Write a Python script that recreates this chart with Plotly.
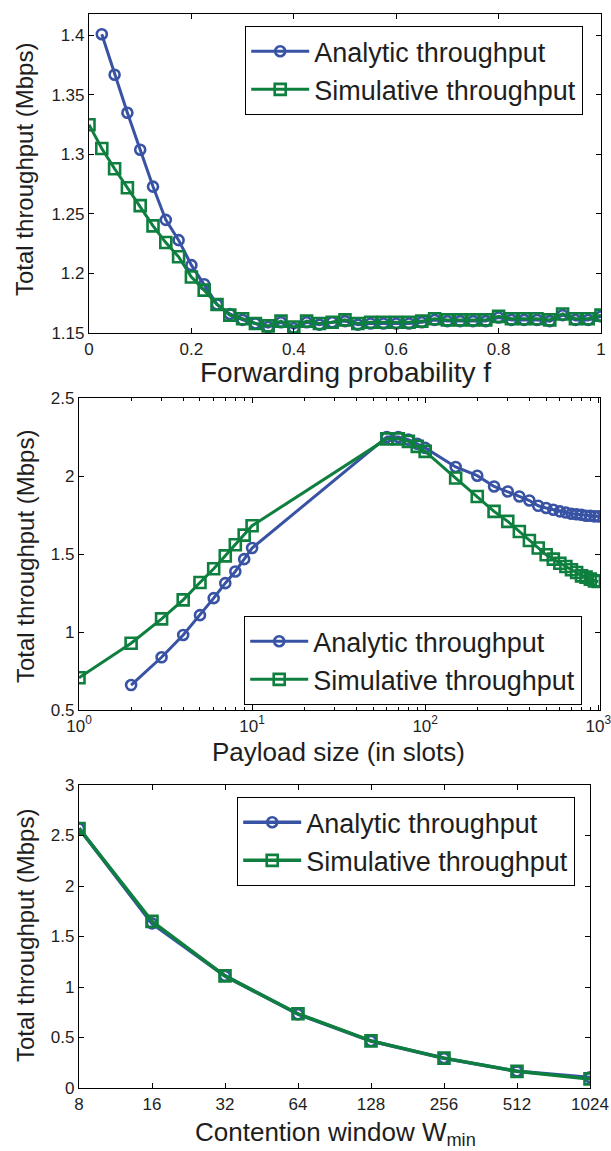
import plotly.graph_objects as go

# ---- Panel 1: throughput vs forwarding probability ----
f_analytic = [0.025, 0.05, 0.075, 0.1, 0.125, 0.15, 0.175, 0.2, 0.225, 0.25,
              0.275, 0.3, 0.325, 0.35, 0.375, 0.4, 0.425, 0.45, 0.475, 0.5,
              0.525, 0.55, 0.575, 0.6, 0.625, 0.65, 0.675, 0.7, 0.725, 0.75,
              0.775, 0.8, 0.825, 0.85, 0.875, 0.9, 0.925, 0.95, 0.975, 1.0]
thr_f_analytic = [1.401, 1.367, 1.335, 1.304, 1.273, 1.245, 1.228, 1.207, 1.191, 1.174,
                  1.166, 1.161, 1.158, 1.155, 1.159, 1.154, 1.159, 1.157, 1.159, 1.160,
                  1.157, 1.158, 1.158, 1.158, 1.158, 1.159, 1.161, 1.160, 1.160, 1.160,
                  1.160, 1.163, 1.161, 1.161, 1.161, 1.160, 1.165, 1.161, 1.161, 1.164]
f_sim = [0.0, 0.025, 0.05, 0.075, 0.1, 0.125, 0.15, 0.175, 0.2, 0.225, 0.25,
         0.275, 0.3, 0.325, 0.35, 0.375, 0.4, 0.425, 0.45, 0.475, 0.5,
         0.525, 0.55, 0.575, 0.6, 0.625, 0.65, 0.675, 0.7, 0.725, 0.75,
         0.775, 0.8, 0.825, 0.85, 0.875, 0.9, 0.925, 0.95, 0.975, 1.0]
thr_f_sim = [1.325, 1.305, 1.288, 1.272, 1.257, 1.240, 1.226, 1.214, 1.197, 1.186, 1.174,
             1.165, 1.162, 1.158, 1.156, 1.160, 1.155, 1.160, 1.158, 1.159, 1.161,
             1.158, 1.159, 1.159, 1.159, 1.159, 1.160, 1.162, 1.161, 1.161, 1.161,
             1.161, 1.164, 1.162, 1.162, 1.162, 1.161, 1.166, 1.162, 1.162, 1.165]

# ---- Panel 2: throughput vs payload size ----
payload_analytic = [2, 3, 4, 5, 6, 7, 8, 9, 10, 60, 70, 80, 90, 100,
                    150, 200, 250, 300, 350, 400, 450, 500, 550, 600,
                    650, 700, 750, 800, 850, 900, 950, 1000]
thr_p_analytic = [0.660, 0.838, 0.981, 1.108, 1.217, 1.313, 1.388, 1.467, 1.538,
                  2.250, 2.250, 2.233, 2.207, 2.180,
                  2.058, 2.002, 1.933, 1.901, 1.869, 1.843, 1.809, 1.795, 1.784, 1.773,
                  1.766, 1.758, 1.755, 1.752, 1.745, 1.745, 1.741, 1.741]
payload_sim = [1, 2, 3, 4, 5, 6, 7, 8, 9, 10, 60, 70, 80, 90, 100,
               150, 200, 250, 300, 350, 400, 450, 500, 550, 600,
               650, 700, 750, 800, 850, 900, 950, 1000]
thr_p_sim = [0.707, 0.928, 1.084, 1.206, 1.317, 1.405, 1.488, 1.559, 1.621, 1.681,
             2.238, 2.238, 2.222, 2.190, 2.158,
             1.987, 1.869, 1.773, 1.709, 1.644, 1.587, 1.538, 1.495, 1.467, 1.441,
             1.420, 1.399, 1.381, 1.360, 1.352, 1.339, 1.328, 1.324]

# ---- Panel 3: throughput vs minimum contention window ----
wmin = [8, 16, 32, 64, 128, 256, 512, 1024]
thr_w_analytic = [2.570, 1.630, 1.110, 0.730, 0.465, 0.295, 0.165, 0.105]
thr_w_sim = [2.570, 1.650, 1.110, 0.735, 0.467, 0.296, 0.165, 0.090]

payload_ticks = [1, 10, 100, 1000]
payload_ticktext = ["10<sup>0</sup>", "10<sup>1</sup>", "10<sup>2</sup>", "10<sup>3</sup>"]

BLUE = "rgb(57,83,164)"
GREEN = "rgb(14,127,62)"
TEXT = "#1e1e1e"
FONT = "Liberation Sans, Arial, Helvetica, sans-serif"
W, H = 611, 1151

fig = go.Figure()


def add_pair(xa, ya, xs, ys, axis_suffix, legend_name, lw):
    xref = "x" + axis_suffix
    yref = "y" + axis_suffix
    fig.add_trace(go.Scatter(
        x=xa, y=ya, mode="lines+markers", name="Analytic throughput",
        line=dict(color=BLUE, width=lw),
        marker=dict(symbol="circle-open", size=10, color=BLUE, line=dict(width=2.6, color=BLUE)),
        xaxis=xref, yaxis=yref, legend=legend_name))
    fig.add_trace(go.Scatter(
        x=xs, y=ys, mode="lines+markers", name="Simulative throughput",
        line=dict(color=GREEN, width=lw),
        marker=dict(symbol="square-open", size=11, color=GREEN, line=dict(width=2.6, color=GREEN)),
        xaxis=xref, yaxis=yref, legend=legend_name))


add_pair(f_analytic, thr_f_analytic, f_sim, thr_f_sim, "", "legend", 3)
add_pair(payload_analytic, thr_p_analytic, payload_sim, thr_p_sim, "2", "legend2", 3)
add_pair(wmin, thr_w_analytic, wmin, thr_w_sim, "3", "legend3", 3.5)


def px_x(p):
    return p / W


def px_y(p):
    return 1 - p / H


axis_common = dict(showline=True, linecolor="black", linewidth=1.2, mirror="ticks",
                   ticks="inside", ticklen=5, tickcolor="black", tickwidth=1,
                   showgrid=False, zeroline=False, automargin=False,
                   ticklabeloverflow="allow",
                   tickfont=dict(family=FONT, size=17, color=TEXT))

fig.update_layout(
    width=W, height=H,
    margin=dict(l=0, r=0, t=0, b=0, autoexpand=False),
    paper_bgcolor="white", plot_bgcolor="white",
    font=dict(family=FONT, color=TEXT),
    xaxis=dict(domain=[px_x(89), px_x(601)], anchor="y", range=[0, 1],
               tickvals=[0, 0.2, 0.4, 0.6, 0.8, 1], ticktext=["0", "0.2", "0.4", "0.6", "0.8", "1"],
               **axis_common),
    yaxis=dict(domain=[px_y(333), px_y(14)], anchor="x", range=[1.15, 1.418],
               tickvals=[1.15, 1.2, 1.25, 1.3, 1.35, 1.4],
               ticktext=["1.15", "1.2", "1.25", "1.3", "1.35", "1.4"], **axis_common),
    xaxis2=dict(domain=[px_x(79), px_x(600)], anchor="y2", type="log", range=[0, 3.01],
                tickvals=payload_ticks, ticktext=payload_ticktext,
                minor=dict(ticks="inside", ticklen=3, tickcolor="black",
                           tickvals=[2, 3, 4, 5, 6, 7, 8, 9, 20, 30, 40, 50, 60, 70, 80, 90,
                                     200, 300, 400, 500, 600, 700, 800, 900]),
                **axis_common),
    yaxis2=dict(domain=[px_y(710), px_y(398)], anchor="x2", range=[0.5, 2.5],
                tickvals=[0.5, 1, 1.5, 2, 2.5], ticktext=["0.5", "1", "1.5", "2", "2.5"],
                **axis_common),
    xaxis3=dict(domain=[px_x(79), px_x(590)], anchor="y3", type="log",
                range=[0.90309, 3.0103], tickvals=wmin, ticktext=[str(v) for v in wmin],
                **axis_common),
    yaxis3=dict(domain=[px_y(1088), px_y(785)], anchor="x3", range=[0, 3],
                tickvals=[0, 0.5, 1, 1.5, 2, 2.5, 3],
                ticktext=["0", "0.5", "1", "1.5", "2", "2.5", "3"], **axis_common),
    showlegend=True,
)

legend_common = dict(xanchor="left", yanchor="top", bordercolor="black", borderwidth=1.2,
                     bgcolor="white", font=dict(family=FONT, size=27, color=TEXT),
                     itemwidth=58, tracegroupgap=0)
fig.update_layout(
    legend=dict(x=px_x(245), y=px_y(26), **legend_common),
    legend2=dict(x=px_x(244), y=px_y(616), **legend_common),
    legend3=dict(x=px_x(237), y=px_y(797), **legend_common),
)

# axis titles
ytitle_font = dict(family=FONT, size=24, color=TEXT)
xtitle_font = dict(family=FONT, size=26, color=TEXT)
for ycen in (170, 557, 936):
    fig.add_annotation(text="Total throughput (Mbps)", x=px_x(25), y=px_y(ycen),
                       xref="paper", yref="paper", textangle=-90, showarrow=False,
                       font=ytitle_font, xanchor="center", yanchor="middle")
fig.add_annotation(text="Forwarding probability f", x=px_x(345), y=px_y(372),
                   xref="paper", yref="paper", showarrow=False,
                   font=dict(family=FONT, size=28, color=TEXT),
                   xanchor="center", yanchor="middle")
fig.add_annotation(text="Payload size (in slots)", x=px_x(338), y=px_y(752),
                   xref="paper", yref="paper", showarrow=False, font=xtitle_font,
                   xanchor="center", yanchor="middle")
fig.add_annotation(text="Contention window W<sub>min</sub>", x=px_x(335), y=px_y(1133),
                   xref="paper", yref="paper", showarrow=False, font=xtitle_font,
                   xanchor="center", yanchor="middle")

fig.write_html("out.html")
